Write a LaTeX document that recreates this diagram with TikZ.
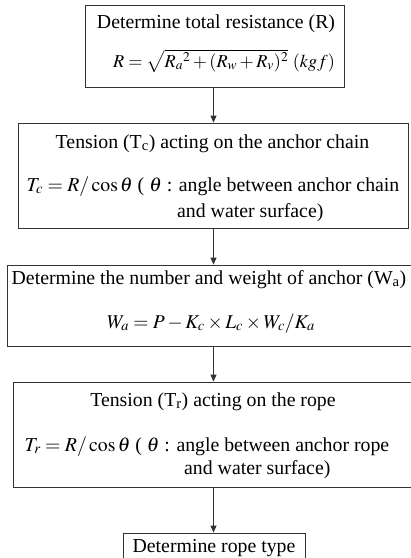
\documentclass[tikz,border=0pt]{standalone}
\usepackage{mathptmx}
\usepackage{fontspec}
\setmainfont{Liberation Serif}
\usetikzlibrary{arrows.meta}
\tikzset{
  box/.style={draw=black!80, line width=0.9pt, inner sep=0pt},
  txt/.style={inner sep=0pt, anchor=base, font=\fontsize{19.8}{24}\selectfont},
  txtl/.style={txt, anchor=base west},
  fml/.style={inner sep=0pt, anchor=base, font=\fontsize{18.2}{22}\selectfont},
  fmlb/.style={inner sep=0pt, anchor=base, font=\fontsize{19.5}{23}\selectfont},
  arr/.style={draw=black!80, line width=0.9pt, -{Triangle[length=7pt,width=6pt]}}
}
\begin{document}
\begin{tikzpicture}[x=1pt,y=-1pt]
\useasboundingbox (0,0) rectangle (411,558);
\clip (0,0) rectangle (411,558);
\fill[white] (0,0) rectangle (411,558);
% boxes
\node[box, minimum width=259pt, minimum height=82pt] (b1) at (214.5,46) {};
\node[box, minimum width=390pt, minimum height=105pt] (b2) at (213,175.5) {};
\node[box, minimum width=406pt, minimum height=81pt] (b3) at (210,305.5) {};
\node[box, minimum width=401pt, minimum height=105pt] (b4) at (213.5,434.5) {};
\node[box, minimum width=182pt, minimum height=42pt] (b5) at (214,554) {};
% texts
\node[txt] (t1a) at (216,28) {Determine total resistance (R)};
\node[fml] (t1b) at (224,67) {$R=\sqrt{R_a{}^{2}+(R_w+R_v)^{2}}\ (kgf)$};
\node[txt] (t2a) at (212.5,148) {Tension (T\textsubscript{c}) acting on the anchor chain};
\node[txt] (t2b) at (213,191) {$T_c=R/\cos\theta$ ( $\theta$ : angle between anchor chain};
\node[txtl] (t2c) at (177,217) {and water surface)};
\node[txt] (t3a) at (209,284) {Determine the number and weight of anchor (W\textsubscript{a})};
\node[fmlb] (t3b) at (211,328) {$W_a=P-K_c\times L_c\times W_c/K_a$};
\node[txt] (t4a) at (213,406) {Tension (T\textsubscript{r}) acting on the rope};
\node[txt] (t4b) at (207,451) {$T_r=R/\cos\theta$ ( $\theta$ : angle between anchor rope};
\node[txtl] (t4c) at (184,474) {and water surface)};
\node[txt] (t5) at (214,552) {Determine rope type};
% arrows
\coordinate (spine) at (213.5,0);
\draw[arr] (b1.south -| spine) -- (b2.north -| spine);
\draw[arr] (b2.south -| spine) -- (b3.north -| spine);
\draw[arr] (b3.south -| spine) -- (b4.north -| spine);
\draw[arr] (b4.south -| spine) -- (b5.north -| spine);
\end{tikzpicture}
\end{document}
